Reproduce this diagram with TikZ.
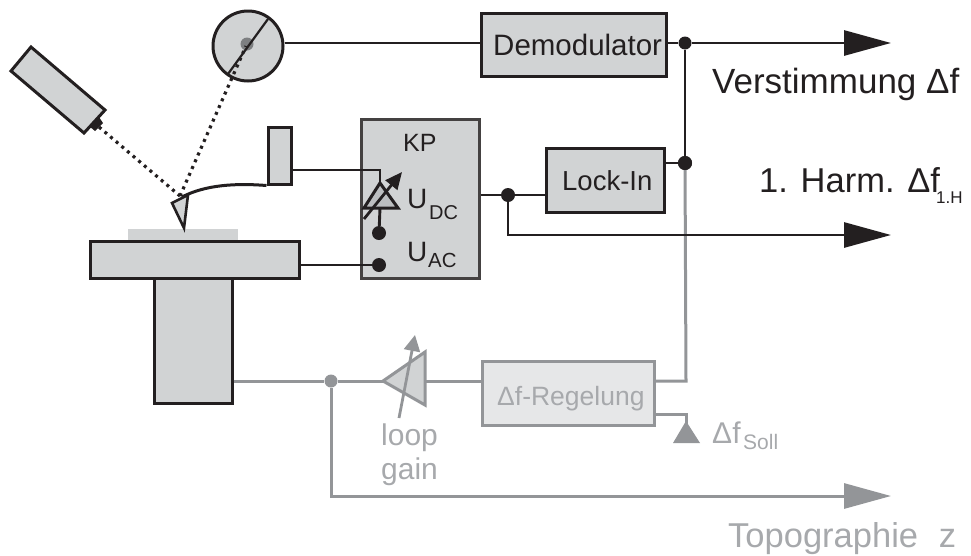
\documentclass[tikz,border=0pt]{standalone}
\usepackage{fontspec}
\setmainfont{Liberation Sans}
\usetikzlibrary{calc,arrows.meta}
\definecolor{ink}{HTML}{231F20}
\definecolor{fillg}{HTML}{D1D3D4}
\definecolor{fillgd}{HTML}{BCBEC0}
\definecolor{lightg}{HTML}{E6E7E8}
\definecolor{lineg}{HTML}{939598}
\definecolor{textg}{HTML}{A7A9AC}
\newcommand{\fs}[1]{\fontsize{#1}{#1}\selectfont}
\tikzset{
  x=1pt,y=-1pt,
  blk/.style={draw=ink,line width=3pt,fill=fillg,inner sep=0pt,minimum width=#1},
  wire/.style={draw=ink,line width=2.9pt},
  gwire/.style={draw=lineg,line width=3pt},
  dot/.style={circle,fill=ink,inner sep=0pt,minimum size=#1},
  gdot/.style={circle,fill=lineg,inner sep=0pt,minimum size=#1},
  beam/.style={draw=ink,line width=3.2pt,dash pattern=on 3pt off 4.4pt},
  lab/.style={anchor=base west,inner sep=0pt,text=ink},
  glab/.style={anchor=base west,inner sep=0pt,text=textg},
  bigarrow/.style={-{Triangle[length=47pt,width=25pt]}},
}
\begin{document}
\begin{tikzpicture}
\useasboundingbox (0,0) rectangle (971,555);

% laser
\draw[draw=ink,line width=3pt,fill=fillg,line join=miter] (31,47)--(105,110)--(84,133)--(11,71)--cycle;
\fill[ink] (99,117)--(103,123)--(95,131)--(89,126)--cycle;
\coordinate (laserout) at (99,127);
\coordinate (spot) at (180,196);

% photodiode
\node[circle,draw=ink,line width=3pt,fill=fillg,minimum size=70pt,inner sep=0pt] (pd) at (248,46) {};
\node[gdot=13pt,fill=lineg!85!black] (pdspot) at (247,44) {};
\draw[ink,line width=2.2pt] (268,19)--(228,74);
\coordinate (pdin) at (246,46);
\draw[beam] (laserout)--(spot);
\draw[beam] (spot)--(pdin);

% sample stage
\fill[fillg] (128,229) rectangle (238,240);
\node[draw=ink,line width=3pt,fill=fillg,inner sep=0pt,minimum width=78pt,minimum height=125pt] (stem) at (193,340.5) {};
\node[draw=ink,line width=3pt,fill=fillg,inner sep=0pt,minimum width=209pt,minimum height=37pt] (plate) at (194.5,259.5) {};

% cantilever
\node[draw=ink,line width=3pt,fill=fillg,inner sep=0pt,minimum width=23pt,minimum height=57pt] (clamp) at (279.5,155.5) {};
\draw[ink,line width=3pt] (182,197) .. controls (205,185) and (235,183) .. (clamp.south west);
\draw[ink,line width=2.6pt,fill=fillg,line join=miter] (172,203)--(188,195)--(184,228)--cycle;

% KP
\node[draw=ink!85,line width=3pt,fill=fillg,inner sep=0pt,minimum width=118pt,minimum height=159pt] (kp) at (420,198.5) {};
\node[lab,font=\fs{25}] (kplab) at (403,151) {KP};
\node[dot=14pt] (dcdot) at (379,233) {};
\node[dot=14pt] (acdot) at (379,265) {};
\coordinate (apex) at (380,183);
\draw[wire] (clamp.east |- 0,170) -- (380,170) -- (apex);
\draw[wire] (380,208)--(dcdot);
\draw[wire] (plate.east |- acdot) -- (acdot);
\draw[draw=ink,line width=3pt,fill=fillgd,line join=miter] (apex)--(398,208)--(364,208)--cycle;
\draw[ink,line width=2.8pt,-{Triangle[length=17pt,width=15pt]}] (364,219)--(402,172);
\node[lab,font=\fs{28}] (udc) at (407,208) {U};
\node[lab,font=\fs{20}] (udcs) at (429,219) {DC};
\node[lab,font=\fs{28}] (uac) at (407,261) {U};
\node[lab,font=\fs{20.4}] (uacs) at (428,267) {AC};

% Demodulator
\node[blk=185pt,minimum height=63pt] (demod) at (573.5,45) {};
\node[lab,font=\fs{29.5}] (demodlab) at (493,55) {Demodulator};
\node[blk=118pt,minimum height=64pt] (lockin) at (605,180) {};
\node[lab,font=\fs{27.5}] (lockinlab) at (562,190) {Lock-In};

% gray loop
\node[draw=lineg,line width=3pt,fill=lightg,inner sep=0pt,minimum width=172pt,minimum height=64pt] (reg) at (568,393) {};
\node[glab,font=\fs{26.5}] (reglab) at (497,405) {Δf-Regelung};
\node[gdot=13pt] (gj) at (331,381) {};
\node[dot=13pt] (j1) at (685,43) {};
\node[dot=14pt] (j2) at (685,163) {};
\node[dot=14pt] (j4) at (508,195) {};

\draw[gwire] (j2) -- (686,381) -- (reg.east |- 0,381);
\draw[gwire] (stem.east |- gj) -- (gj);
\draw[gwire] (gj) -- (383,381);
\draw[gwire] (425,381) -- (reg.west |- 0,381);
\draw[draw=lineg,line width=3pt,fill=fillg,line join=miter] (383,381)--(425,352)--(425,405)--cycle;
\draw[lineg,line width=2.8pt,-{Triangle[length=16pt,width=16pt]}] (399,418)--(415,335);
\draw[gwire,bigarrow] (gj) -- (331,496) -- (891,496);

\node[dot=14pt] at (j2) {};
\draw[wire] (pd.east |- j1) -- (demod.west |- j1);
\draw[wire] (demod.east |- j1) -- (j1);
\draw[wire,bigarrow] (j1) -- (891,43);
\draw[wire] (j1)--(j2);
\draw[wire] (lockin.east |- j2) -- (j2);
\draw[wire] (kp.east |- j4) -- (j4) -- (lockin.west |- j4);
\draw[wire,bigarrow] (j4) -- (508,235) -- (891,235);

\draw[gwire] (reg.east |- 0,414) -- (686,414) -- (686,424);
\fill[lineg] (686,421)--(700,443)--(673,443)--cycle;

% labels
\node[lab,font=\fs{35}] (verst) at (712,93) {Verstimmung Δf};
\node[lab,font=\fs{34.5}] (harm) at (759,192) {1. Harm. Δf};
\node[lab,font=\fs{17}] (harms) at (936,203) {1.H};
\node[glab,font=\fs{30}] (loop) at (381,445) {loop};
\node[glab,font=\fs{30}] (gain) at (381,479) {gain};
\node[glab,font=\fs{30}] (soll) at (712,443) {Δf};
\node[glab,font=\fs{21}] (solls) at (743,449) {Soll};
\node[glab,font=\fs{34.5}] (topo) at (728,547) {Topographie\hspace{0.6em}z};
\end{tikzpicture}
\end{document}
